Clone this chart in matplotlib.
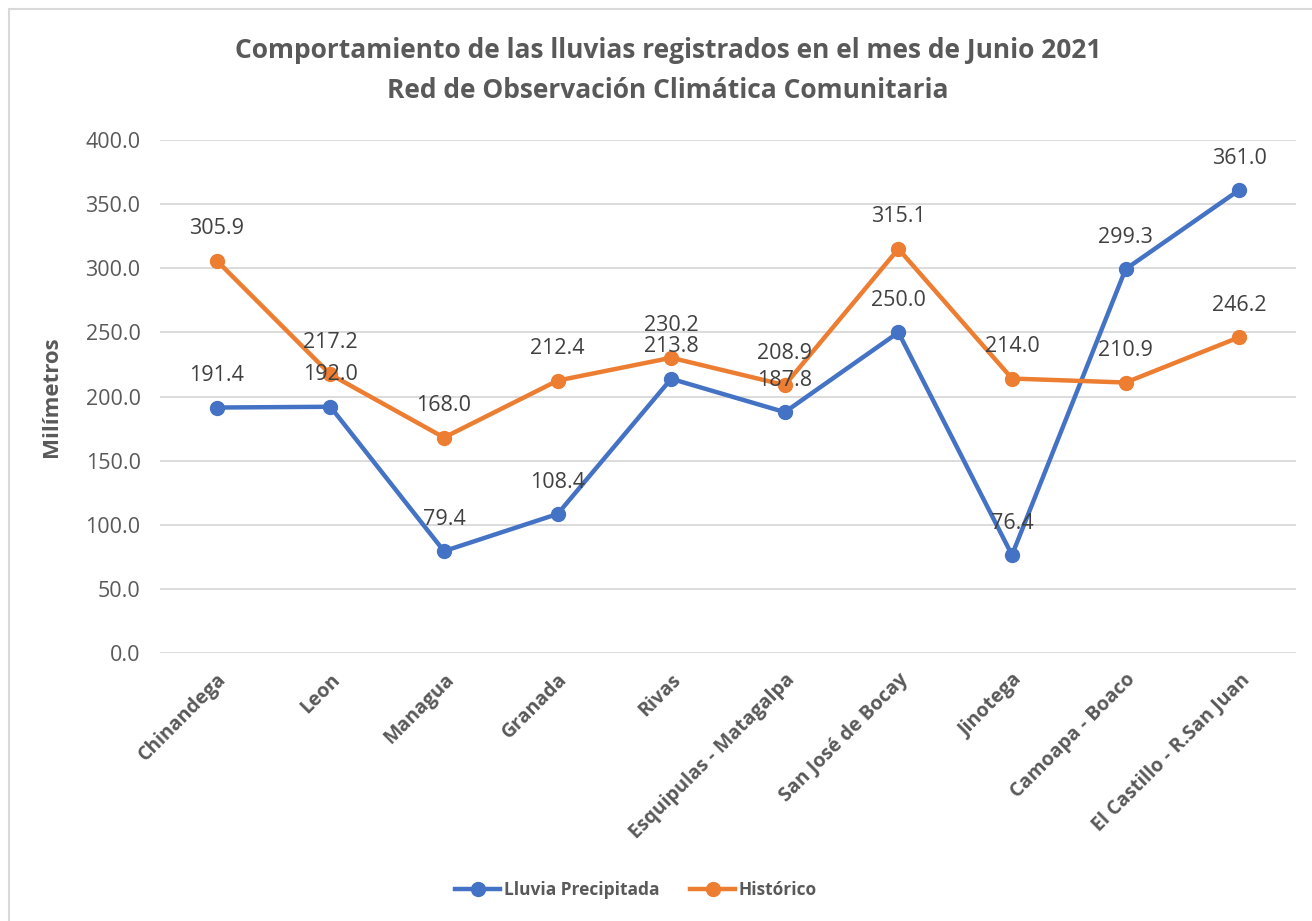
import matplotlib
matplotlib.use("Agg")
import matplotlib.pyplot as plt
from matplotlib.patches import Rectangle
from matplotlib.lines import Line2D

categories = ["Chinandega", "Leon", "Managua", "Granada", "Rivas",
              "Esquipulas - Matagalpa", "San José de Bocay", "Jinotega",
              "Camoapa - Boaco", "El Castillo - R.San Juan"]
lluvia = [191.4, 192.0, 79.4, 108.4, 213.8, 187.8, 250.0, 76.4, 299.3, 361.0]
historico = [305.9, 217.2, 168.0, 212.4, 230.2, 208.9, 315.1, 214.0, 210.9, 246.2]
yticks = [0, 50, 100, 150, 200, 250, 300, 350, 400]

plt.rcParams['font.family'] = ['Open Sans', 'DejaVu Sans']
W, H = 1312, 921
fig = plt.figure(figsize=(W / 100, H / 100), dpi=100)
ax = fig.add_axes([160 / W, 1 - 653 / H, (1296 - 160) / W, (653 - 140) / H])

blue = "#4472C4"
orange = "#ED7D31"
x = list(range(len(categories)))
ax.plot(x, lluvia, color=blue, lw=3.2, marker='o', ms=10, zorder=3,
        label="Lluvia Precipitada", solid_capstyle='round')
ax.plot(x, historico, color=orange, lw=3.2, marker='o', ms=10, zorder=3,
        label="Histórico", solid_capstyle='round')

for xi, v in zip(x, lluvia):
    ax.annotate(f"{v:.1f}", (xi, v), xytext=(0, 23), textcoords='offset points',
                ha='center', va='center', fontsize=15.5, color='#404040', zorder=5)
for xi, v in zip(x, historico):
    ax.annotate(f"{v:.1f}", (xi, v), xytext=(0, 23), textcoords='offset points',
                ha='center', va='center', fontsize=15.5, color='#404040', zorder=5)

ax.set_xlim(-0.5, len(categories) - 0.5)
ax.set_ylim(0, 400)
ax.set_yticks(yticks)
ax.set_yticklabels([f"{t:.1f}" for t in yticks], fontsize=15.5, color='#595959')
ax.set_xticks(x)
ax.set_xticklabels(categories, rotation=45, ha='right', rotation_mode='anchor',
                   fontsize=14, fontweight='bold', color='#595959')
ax.tick_params(axis='both', length=0)
ax.tick_params(axis='y', pad=14)
ax.tick_params(axis='x', pad=12)
ax.grid(axis='y', color='#d9d9d9', lw=1.3)
ax.set_axisbelow(True)
for s in ax.spines.values():
    s.set_visible(False)

ax.set_ylabel("Milímetros", fontsize=16, fontweight='bold', color='#595959')
ax.yaxis.set_label_coords(-(160 - 62) / (1296 - 160), 0.5)

fig.text(668 / W, 1 - 50 / H, "Comportamiento de las lluvias registrados en el mes de Junio 2021",
         ha='center', va='center', fontsize=19, fontweight='bold', color='#595959')
fig.text(668 / W, 1 - 90 / H, "Red de Observación Climática Comunitaria",
         ha='center', va='center', fontsize=19, fontweight='bold', color='#595959')

handles = [Line2D([0], [0], color=blue, lw=3.2, marker='o', ms=10),
           Line2D([0], [0], color=orange, lw=3.2, marker='o', ms=10)]
leg = fig.legend(handles, ["Lluvia Precipitada", "Histórico"], loc='center',
                 bbox_to_anchor=(636 / W, 1 - 890 / H), ncol=2, frameon=False,
                 prop={'size': 12.5, 'weight': 'bold'}, handlelength=2.6,
                 handletextpad=0.2, columnspacing=1.8)
for t in leg.get_texts():
    t.set_color('#595959')

fig.patches.append(Rectangle((9 / W, -0.1), 2, 1 - 9 / H + 0.1, transform=fig.transFigure,
                             fill=False, edgecolor='#d9d9d9', lw=1.5))

fig.savefig("out.png", dpi=100, facecolor='white')
